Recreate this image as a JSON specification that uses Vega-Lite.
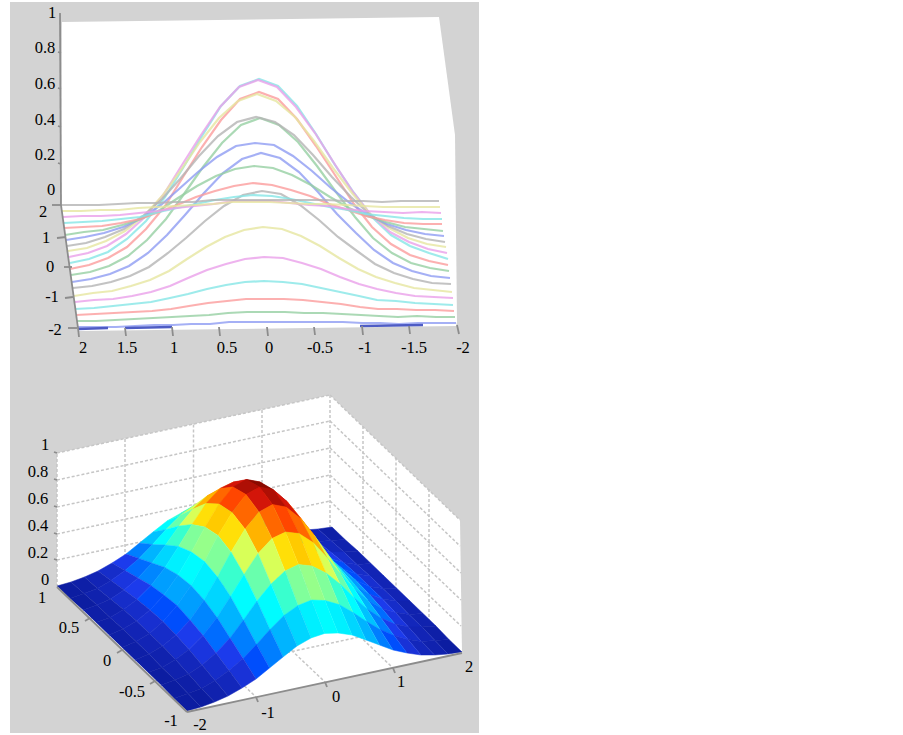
{"$schema":"https://vega.github.io/schema/vega-lite/v6.json","width":903,"height":735,"padding":0,"autosize":"none","background":"white","view":{"stroke":null},
"datasets":{
"verts":[
{"v":0,"px":187,"py":711},{"v":1,"px":201,"py":707},{"v":2,"px":214.5,"py":702},{"v":3,"px":228,"py":696},{"v":4,"px":242,"py":688},{"v":5,"px":256,"py":679},{"v":6,"px":269.5,"py":668},{"v":7,"px":283,"py":657},{"v":8,"px":297,"py":646},{"v":9,"px":311,"py":638},{"v":10,"px":324.5,"py":633.5},{"v":11,"px":338,"py":633},{"v":12,"px":352,"py":635},{"v":13,"px":366,"py":640},{"v":14,"px":379.5,"py":645},{"v":15,"px":393,"py":650},{"v":16,"px":407,"py":653},{"v":17,"px":421,"py":655},{"v":18,"px":434.5,"py":655},{"v":19,"px":448,"py":654},{"v":20,"px":462,"py":652},
{"v":21,"px":174,"py":698.5},{"v":22,"px":188,"py":693.5},{"v":23,"px":201.5,"py":688.5},{"v":24,"px":215,"py":680.5},{"v":25,"px":229,"py":670.5},{"v":26,"px":243,"py":658.5},{"v":27,"px":256.5,"py":644.5},{"v":28,"px":270,"py":629.5},{"v":29,"px":284,"py":615.5},{"v":30,"px":298,"py":605.5},{"v":31,"px":311.5,"py":600},{"v":32,"px":325,"py":600.5},{"v":33,"px":339,"py":604.5},{"v":34,"px":353,"py":612.5},{"v":35,"px":366.5,"py":621.5},{"v":36,"px":380,"py":629.5},{"v":37,"px":394,"py":635.5},{"v":38,"px":408,"py":639.5},{"v":39,"px":421.5,"py":641.5},{"v":40,"px":435,"py":640.5},{"v":41,"px":449,"py":639.5},
{"v":42,"px":161,"py":685},{"v":43,"px":175,"py":680},{"v":44,"px":188.5,"py":674},{"v":45,"px":202,"py":665},{"v":46,"px":216,"py":653},{"v":47,"px":230,"py":638},{"v":48,"px":243.5,"py":620},{"v":49,"px":257,"py":601},{"v":50,"px":271,"py":584},{"v":51,"px":285,"py":571},{"v":52,"px":298.5,"py":564.5},{"v":53,"px":312,"py":566},{"v":54,"px":326,"py":573},{"v":55,"px":340,"py":584},{"v":56,"px":353.5,"py":597},{"v":57,"px":367,"py":609},{"v":58,"px":381,"py":618},{"v":59,"px":395,"py":624},{"v":60,"px":408.5,"py":627},{"v":61,"px":422,"py":627},{"v":62,"px":436,"py":626},
{"v":63,"px":148,"py":672.5},{"v":64,"px":162,"py":667.5},{"v":65,"px":175.5,"py":659.5},{"v":66,"px":189,"py":649.5},{"v":67,"px":203,"py":635.5},{"v":68,"px":217,"py":617.5},{"v":69,"px":230.5,"py":596.5},{"v":70,"px":244,"py":574.5},{"v":71,"px":258,"py":553.5},{"v":72,"px":272,"py":538.5},{"v":73,"px":285.5,"py":532},{"v":74,"px":299,"py":533.5},{"v":75,"px":313,"py":542.5},{"v":76,"px":327,"py":557.5},{"v":77,"px":340.5,"py":573.5},{"v":78,"px":354,"py":588.5},{"v":79,"px":368,"py":600.5},{"v":80,"px":382,"py":608.5},{"v":81,"px":395.5,"py":612.5},{"v":82,"px":409,"py":614.5},{"v":83,"px":423,"py":613.5},
{"v":84,"px":135,"py":660},{"v":85,"px":149,"py":654},{"v":86,"px":162.5,"py":646},{"v":87,"px":176,"py":635},{"v":88,"px":190,"py":620},{"v":89,"px":204,"py":600},{"v":90,"px":217.5,"py":577},{"v":91,"px":231,"py":552},{"v":92,"px":245,"py":529},{"v":93,"px":259,"py":512},{"v":94,"px":272.5,"py":504.5},{"v":95,"px":286,"py":507},{"v":96,"px":300,"py":518},{"v":97,"px":314,"py":535},{"v":98,"px":327.5,"py":554},{"v":99,"px":341,"py":571},{"v":100,"px":355,"py":585},{"v":101,"px":369,"py":594},{"v":102,"px":382.5,"py":599},{"v":103,"px":396,"py":601},{"v":104,"px":410,"py":601},
{"v":105,"px":122,"py":647.5},{"v":106,"px":136,"py":641.5},{"v":107,"px":149.5,"py":633.5},{"v":108,"px":163,"py":621.5},{"v":109,"px":177,"py":605.5},{"v":110,"px":191,"py":585.5},{"v":111,"px":204.5,"py":561.5},{"v":112,"px":218,"py":535.5},{"v":113,"px":232,"py":512.5},{"v":114,"px":246,"py":494.5},{"v":115,"px":259.5,"py":487},{"v":116,"px":273,"py":489.5},{"v":117,"px":287,"py":501.5},{"v":118,"px":301,"py":518.5},{"v":119,"px":314.5,"py":538.5},{"v":120,"px":328,"py":556.5},{"v":121,"px":342,"py":570.5},{"v":122,"px":356,"py":580.5},{"v":123,"px":369.5,"py":586.5},{"v":124,"px":383,"py":588.5},{"v":125,"px":397,"py":588.5},
{"v":126,"px":109,"py":635},{"v":127,"px":123,"py":629},{"v":128,"px":136.5,"py":621},{"v":129,"px":150,"py":610},{"v":130,"px":164,"py":595},{"v":131,"px":178,"py":575},{"v":132,"px":191.5,"py":552},{"v":133,"px":205,"py":527},{"v":134,"px":219,"py":504},{"v":135,"px":233,"py":487},{"v":136,"px":246.5,"py":479.5},{"v":137,"px":260,"py":482},{"v":138,"px":274,"py":493},{"v":139,"px":288,"py":510},{"v":140,"px":301.5,"py":529},{"v":141,"px":315,"py":546},{"v":142,"px":329,"py":560},{"v":143,"px":343,"py":569},{"v":144,"px":356.5,"py":574},{"v":145,"px":370,"py":576},{"v":146,"px":384,"py":576},
{"v":147,"px":96,"py":622.5},{"v":148,"px":110,"py":617.5},{"v":149,"px":123.5,"py":609.5},{"v":150,"px":137,"py":599.5},{"v":151,"px":151,"py":585.5},{"v":152,"px":165,"py":567.5},{"v":153,"px":178.5,"py":546.5},{"v":154,"px":192,"py":524.5},{"v":155,"px":206,"py":503.5},{"v":156,"px":220,"py":488.5},{"v":157,"px":233.5,"py":482},{"v":158,"px":247,"py":483.5},{"v":159,"px":261,"py":492.5},{"v":160,"px":275,"py":507.5},{"v":161,"px":288.5,"py":523.5},{"v":162,"px":302,"py":538.5},{"v":163,"px":316,"py":550.5},{"v":164,"px":330,"py":558.5},{"v":165,"px":343.5,"py":562.5},{"v":166,"px":357,"py":564.5},{"v":167,"px":371,"py":563.5},
{"v":168,"px":83,"py":610},{"v":169,"px":97,"py":605},{"v":170,"px":110.5,"py":599},{"v":171,"px":124,"py":590},{"v":172,"px":138,"py":578},{"v":173,"px":152,"py":563},{"v":174,"px":165.5,"py":545},{"v":175,"px":179,"py":526},{"v":176,"px":193,"py":509},{"v":177,"px":207,"py":496},{"v":178,"px":220.5,"py":489.5},{"v":179,"px":234,"py":491},{"v":180,"px":248,"py":498},{"v":181,"px":262,"py":509},{"v":182,"px":275.5,"py":522},{"v":183,"px":289,"py":534},{"v":184,"px":303,"py":543},{"v":185,"px":317,"py":549},{"v":186,"px":330.5,"py":552},{"v":187,"px":344,"py":552},{"v":188,"px":358,"py":551},
{"v":189,"px":70,"py":598.5},{"v":190,"px":84,"py":593.5},{"v":191,"px":97.5,"py":588.5},{"v":192,"px":111,"py":580.5},{"v":193,"px":125,"py":570.5},{"v":194,"px":139,"py":558.5},{"v":195,"px":152.5,"py":544.5},{"v":196,"px":166,"py":529.5},{"v":197,"px":180,"py":515.5},{"v":198,"px":194,"py":505.5},{"v":199,"px":207.5,"py":500},{"v":200,"px":221,"py":500.5},{"v":201,"px":235,"py":504.5},{"v":202,"px":249,"py":512.5},{"v":203,"px":262.5,"py":521.5},{"v":204,"px":276,"py":529.5},{"v":205,"px":290,"py":535.5},{"v":206,"px":304,"py":539.5},{"v":207,"px":317.5,"py":541.5},{"v":208,"px":331,"py":540.5},{"v":209,"px":345,"py":539.5},
{"v":210,"px":57,"py":586},{"v":211,"px":71,"py":582},{"v":212,"px":84.5,"py":577},{"v":213,"px":98,"py":571},{"v":214,"px":112,"py":563},{"v":215,"px":126,"py":554},{"v":216,"px":139.5,"py":543},{"v":217,"px":153,"py":532},{"v":218,"px":167,"py":521},{"v":219,"px":181,"py":513},{"v":220,"px":194.5,"py":508.5},{"v":221,"px":208,"py":508},{"v":222,"px":222,"py":510},{"v":223,"px":236,"py":515},{"v":224,"px":249.5,"py":520},{"v":225,"px":263,"py":525},{"v":226,"px":277,"py":528},{"v":227,"px":291,"py":530},{"v":228,"px":304.5,"py":530},{"v":229,"px":318,"py":529},{"v":230,"px":332,"py":527}
],
"cells":[
{"c":"c208","z":0.02,"v":[208,209,230,229]},{"c":"c207","z":0.04,"v":[207,208,229,228]},{"c":"c206","z":0.07,"v":[206,207,228,227]},{"c":"c205","z":0.12,"v":[205,206,227,226]},{"c":"c204","z":0.19,"v":[204,205,226,225]},{"c":"c203","z":0.28,"v":[203,204,225,224]},{"c":"c202","z":0.37,"v":[202,203,224,223]},{"c":"c201","z":0.45,"v":[201,202,223,222]},{"c":"c200","z":0.51,"v":[200,201,222,221]},{"c":"c199","z":0.53,"v":[199,200,221,220]},{"c":"c198","z":0.51,"v":[198,199,220,219]},{"c":"c197","z":0.45,"v":[197,198,219,218]},{"c":"c196","z":0.37,"v":[196,197,218,217]},{"c":"c195","z":0.28,"v":[195,196,217,216]},{"c":"c194","z":0.19,"v":[194,195,216,215]},{"c":"c193","z":0.12,"v":[193,194,215,214]},{"c":"c192","z":0.07,"v":[192,193,214,213]},{"c":"c191","z":0.04,"v":[191,192,213,212]},{"c":"c190","z":0.02,"v":[190,191,212,211]},{"c":"c189","z":0.01,"v":[189,190,211,210]},
{"c":"c187","z":0.03,"v":[187,188,209,208]},{"c":"c186","z":0.05,"v":[186,187,208,207]},{"c":"c185","z":0.10,"v":[185,186,207,206]},{"c":"c184","z":0.17,"v":[184,185,206,205]},{"c":"c183","z":0.26,"v":[183,184,205,204]},{"c":"c182","z":0.37,"v":[182,183,204,203]},{"c":"c181","z":0.49,"v":[181,182,203,202]},{"c":"c180","z":0.59,"v":[180,181,202,201]},{"c":"c179","z":0.67,"v":[179,180,201,200]},{"c":"c178","z":0.70,"v":[178,179,200,199]},{"c":"c177","z":0.67,"v":[177,178,199,198]},{"c":"c176","z":0.59,"v":[176,177,198,197]},{"c":"c175","z":0.49,"v":[175,176,197,196]},{"c":"c174","z":0.37,"v":[174,175,196,195]},{"c":"c173","z":0.26,"v":[173,174,195,194]},{"c":"c172","z":0.17,"v":[172,173,194,193]},{"c":"c171","z":0.10,"v":[171,172,193,192]},{"c":"c170","z":0.05,"v":[170,171,192,191]},{"c":"c169","z":0.03,"v":[169,170,191,190]},{"c":"c168","z":0.01,"v":[168,169,190,189]},
{"c":"c166","z":0.03,"v":[166,167,188,187]},{"c":"c165","z":0.07,"v":[165,166,187,186]},{"c":"c164","z":0.12,"v":[164,165,186,185]},{"c":"c163","z":0.20,"v":[163,164,185,184]},{"c":"c162","z":0.31,"v":[162,163,184,183]},{"c":"c161","z":0.45,"v":[161,162,183,182]},{"c":"c160","z":0.59,"v":[160,161,182,181]},{"c":"c159","z":0.73,"v":[159,160,181,180]},{"c":"c158","z":0.82,"v":[158,159,180,179]},{"c":"c157","z":0.85,"v":[157,158,179,178]},{"c":"c156","z":0.82,"v":[156,157,178,177]},{"c":"c155","z":0.73,"v":[155,156,177,176]},{"c":"c154","z":0.59,"v":[154,155,176,175]},{"c":"c153","z":0.45,"v":[153,154,175,174]},{"c":"c152","z":0.31,"v":[152,153,174,173]},{"c":"c151","z":0.20,"v":[151,152,173,172]},{"c":"c150","z":0.12,"v":[150,151,172,171]},{"c":"c149","z":0.07,"v":[149,150,171,170]},{"c":"c148","z":0.03,"v":[148,149,170,169]},{"c":"c147","z":0.02,"v":[147,148,169,168]},
{"c":"c145","z":0.04,"v":[145,146,167,166]},{"c":"c144","z":0.07,"v":[144,145,166,165]},{"c":"c143","z":0.14,"v":[143,144,165,164]},{"c":"c142","z":0.23,"v":[142,143,164,163]},{"c":"c141","z":0.35,"v":[141,142,163,162]},{"c":"c140","z":0.51,"v":[140,141,162,161]},{"c":"c139","z":0.67,"v":[139,140,161,160]},{"c":"c138","z":0.82,"v":[138,139,160,159]},{"c":"c137","z":0.92,"v":[137,138,159,158]},{"c":"c136","z":0.96,"v":[136,137,158,157]},{"c":"c135","z":0.92,"v":[135,136,157,156]},{"c":"c134","z":0.82,"v":[134,135,156,155]},{"c":"c133","z":0.67,"v":[133,134,155,154]},{"c":"c132","z":0.51,"v":[132,133,154,153]},{"c":"c131","z":0.35,"v":[131,132,153,152]},{"c":"c130","z":0.23,"v":[130,131,152,151]},{"c":"c129","z":0.14,"v":[129,130,151,150]},{"c":"c128","z":0.07,"v":[128,129,150,149]},{"c":"c127","z":0.04,"v":[127,128,149,148]},{"c":"c126","z":0.02,"v":[126,127,148,147]},
{"c":"c124","z":0.04,"v":[124,125,146,145]},{"c":"c123","z":0.08,"v":[123,124,145,144]},{"c":"c122","z":0.14,"v":[122,123,144,143]},{"c":"c121","z":0.24,"v":[121,122,143,142]},{"c":"c120","z":0.37,"v":[120,121,142,141]},{"c":"c119","z":0.53,"v":[119,120,141,140]},{"c":"c118","z":0.70,"v":[118,119,140,139]},{"c":"c117","z":0.85,"v":[117,118,139,138]},{"c":"c116","z":0.96,"v":[116,117,138,137]},{"c":"c115","z":1,"v":[115,116,137,136]},{"c":"c114","z":0.96,"v":[114,115,136,135]},{"c":"c113","z":0.85,"v":[113,114,135,134]},{"c":"c112","z":0.70,"v":[112,113,134,133]},{"c":"c111","z":0.53,"v":[111,112,133,132]},{"c":"c110","z":0.37,"v":[110,111,132,131]},{"c":"c109","z":0.24,"v":[109,110,131,130]},{"c":"c108","z":0.14,"v":[108,109,130,129]},{"c":"c107","z":0.08,"v":[107,108,129,128]},{"c":"c106","z":0.04,"v":[106,107,128,127]},{"c":"c105","z":0.02,"v":[105,106,127,126]},
{"c":"c103","z":0.04,"v":[103,104,125,124]},{"c":"c102","z":0.07,"v":[102,103,124,123]},{"c":"c101","z":0.14,"v":[101,102,123,122]},{"c":"c100","z":0.23,"v":[100,101,122,121]},{"c":"c99","z":0.35,"v":[99,100,121,120]},{"c":"c98","z":0.51,"v":[98,99,120,119]},{"c":"c97","z":0.67,"v":[97,98,119,118]},{"c":"c96","z":0.82,"v":[96,97,118,117]},{"c":"c95","z":0.92,"v":[95,96,117,116]},{"c":"c94","z":0.96,"v":[94,95,116,115]},{"c":"c93","z":0.92,"v":[93,94,115,114]},{"c":"c92","z":0.82,"v":[92,93,114,113]},{"c":"c91","z":0.67,"v":[91,92,113,112]},{"c":"c90","z":0.51,"v":[90,91,112,111]},{"c":"c89","z":0.35,"v":[89,90,111,110]},{"c":"c88","z":0.23,"v":[88,89,110,109]},{"c":"c87","z":0.14,"v":[87,88,109,108]},{"c":"c86","z":0.07,"v":[86,87,108,107]},{"c":"c85","z":0.04,"v":[85,86,107,106]},{"c":"c84","z":0.02,"v":[84,85,106,105]},
{"c":"c82","z":0.03,"v":[82,83,104,103]},{"c":"c81","z":0.07,"v":[81,82,103,102]},{"c":"c80","z":0.12,"v":[80,81,102,101]},{"c":"c79","z":0.20,"v":[79,80,101,100]},{"c":"c78","z":0.31,"v":[78,79,100,99]},{"c":"c77","z":0.45,"v":[77,78,99,98]},{"c":"c76","z":0.59,"v":[76,77,98,97]},{"c":"c75","z":0.73,"v":[75,76,97,96]},{"c":"c74","z":0.82,"v":[74,75,96,95]},{"c":"c73","z":0.85,"v":[73,74,95,94]},{"c":"c72","z":0.82,"v":[72,73,94,93]},{"c":"c71","z":0.73,"v":[71,72,93,92]},{"c":"c70","z":0.59,"v":[70,71,92,91]},{"c":"c69","z":0.45,"v":[69,70,91,90]},{"c":"c68","z":0.31,"v":[68,69,90,89]},{"c":"c67","z":0.20,"v":[67,68,89,88]},{"c":"c66","z":0.12,"v":[66,67,88,87]},{"c":"c65","z":0.07,"v":[65,66,87,86]},{"c":"c64","z":0.03,"v":[64,65,86,85]},{"c":"c63","z":0.02,"v":[63,64,85,84]},
{"c":"c61","z":0.03,"v":[61,62,83,82]},{"c":"c60","z":0.05,"v":[60,61,82,81]},{"c":"c59","z":0.10,"v":[59,60,81,80]},{"c":"c58","z":0.17,"v":[58,59,80,79]},{"c":"c57","z":0.26,"v":[57,58,79,78]},{"c":"c56","z":0.37,"v":[56,57,78,77]},{"c":"c55","z":0.49,"v":[55,56,77,76]},{"c":"c54","z":0.59,"v":[54,55,76,75]},{"c":"c53","z":0.67,"v":[53,54,75,74]},{"c":"c52","z":0.70,"v":[52,53,74,73]},{"c":"c51","z":0.67,"v":[51,52,73,72]},{"c":"c50","z":0.59,"v":[50,51,72,71]},{"c":"c49","z":0.49,"v":[49,50,71,70]},{"c":"c48","z":0.37,"v":[48,49,70,69]},{"c":"c47","z":0.26,"v":[47,48,69,68]},{"c":"c46","z":0.17,"v":[46,47,68,67]},{"c":"c45","z":0.10,"v":[45,46,67,66]},{"c":"c44","z":0.05,"v":[44,45,66,65]},{"c":"c43","z":0.03,"v":[43,44,65,64]},{"c":"c42","z":0.01,"v":[42,43,64,63]},
{"c":"c40","z":0.02,"v":[40,41,62,61]},{"c":"c39","z":0.04,"v":[39,40,61,60]},{"c":"c38","z":0.07,"v":[38,39,60,59]},{"c":"c37","z":0.12,"v":[37,38,59,58]},{"c":"c36","z":0.19,"v":[36,37,58,57]},{"c":"c35","z":0.28,"v":[35,36,57,56]},{"c":"c34","z":0.37,"v":[34,35,56,55]},{"c":"c33","z":0.45,"v":[33,34,55,54]},{"c":"c32","z":0.51,"v":[32,33,54,53]},{"c":"c31","z":0.53,"v":[31,32,53,52]},{"c":"c30","z":0.51,"v":[30,31,52,51]},{"c":"c29","z":0.45,"v":[29,30,51,50]},{"c":"c28","z":0.37,"v":[28,29,50,49]},{"c":"c27","z":0.28,"v":[27,28,49,48]},{"c":"c26","z":0.19,"v":[26,27,48,47]},{"c":"c25","z":0.12,"v":[25,26,47,46]},{"c":"c24","z":0.07,"v":[24,25,46,45]},{"c":"c23","z":0.04,"v":[23,24,45,44]},{"c":"c22","z":0.02,"v":[22,23,44,43]},{"c":"c21","z":0.01,"v":[21,22,43,42]},
{"c":"c19","z":0.01,"v":[19,20,41,40]},{"c":"c18","z":0.03,"v":[18,19,40,39]},{"c":"c17","z":0.05,"v":[17,18,39,38]},{"c":"c16","z":0.09,"v":[16,17,38,37]},{"c":"c15","z":0.14,"v":[15,16,37,36]},{"c":"c14","z":0.19,"v":[14,15,36,35]},{"c":"c13","z":0.26,"v":[13,14,35,34]},{"c":"c12","z":0.31,"v":[12,13,34,33]},{"c":"c11","z":0.35,"v":[11,12,33,32]},{"c":"c10","z":0.37,"v":[10,11,32,31]},{"c":"c9","z":0.35,"v":[9,10,31,30]},{"c":"c8","z":0.31,"v":[8,9,30,29]},{"c":"c7","z":0.26,"v":[7,8,29,28]},{"c":"c6","z":0.19,"v":[6,7,28,27]},{"c":"c5","z":0.14,"v":[5,6,27,26]},{"c":"c4","z":0.09,"v":[4,5,26,25]},{"c":"c3","z":0.05,"v":[3,4,25,24]},{"c":"c2","z":0.03,"v":[2,3,24,23]},{"c":"c1","z":0.01,"v":[1,2,23,22]},{"c":"c0","z":0.01,"v":[0,1,22,21]}
]},
"layer":[
{"data":{"values":[{"px":10,"px2":479,"py":2,"py2":733}]},"mark":{"type":"rect","color":"#d3d3d3"},
"encoding":{"x":{"field":"px","type":"quantitative","scale":{"domain":[0,903],"nice":false,"zero":false},"axis":null},"x2":{"field":"px2"},"y":{"field":"py","type":"quantitative","scale":{"domain":[735,0],"nice":false,"zero":false},"axis":null},"y2":{"field":"py2"}}},
{"data":{"values":[
{"id":"top","px":[62,439,455,457,456,78,61],"py":[22,17,135,322,326,331,205]},
{"id":"wallL","px":[57,330,330,57],"py":[453,395,528,587]},
{"id":"wallR","px":[330,460,462,330],"py":[395,520,653,528]},
{"id":"floor","px":[57,330,462,187],"py":[587,528,653,712]}]},
"transform":[{"flatten":["px","py"]}],
"mark":{"type":"line","fill":"#ffffff","strokeWidth":0},
"encoding":{"x":{"field":"px","type":"quantitative","axis":null},"y":{"field":"py","type":"quantitative","axis":null},"detail":{"field":"id"},"order":{"value":null}}},
{"data":{"values":[
{"id":"z2L","px":[57,330],"py":[560,501]},{"id":"z4L","px":[57,330],"py":[534,475]},{"id":"z6L","px":[57,330],"py":[507,448]},{"id":"z8L","px":[57,330],"py":[480,421]},{"id":"z10L","px":[57,330],"py":[453,395]},
{"id":"z2R","px":[330,461],"py":[501,626]},{"id":"z4R","px":[330,461],"py":[475,600]},{"id":"z6R","px":[330,461],"py":[448,573]},{"id":"z8R","px":[330,460],"py":[421,546]},{"id":"z10R","px":[330,460],"py":[395,520]},
{"id":"vL0","px":[57,57],"py":[587,453]},{"id":"vL1","px":[125,125],"py":[572,439]},{"id":"vL2","px":[193.5,193.5],"py":[557.5,424.5]},{"id":"vL3","px":[262,262],"py":[543,410]},{"id":"vC","px":[330,330],"py":[528,395]},
{"id":"vR1","px":[363,363],"py":[559,426]},{"id":"vR2","px":[396,396],"py":[590.5,457.5]},{"id":"vR3","px":[429,429],"py":[622,489]},
{"id":"f1","px":[125,256],"py":[572,697]},{"id":"f2","px":[193.5,325],"py":[557.5,682]},{"id":"f3","px":[262,393],"py":[543,668]},
{"id":"f4","px":[90,363],"py":[618.5,559]},{"id":"f5","px":[122,396],"py":[650,590.5]},{"id":"f6","px":[155,429],"py":[681,622]}]},
"transform":[{"flatten":["px","py"]}],
"mark":{"type":"line","color":"#c6c6c6","strokeWidth":1.5,"strokeDash":[3,2]},
"encoding":{"x":{"field":"px","type":"quantitative","axis":null},"y":{"field":"py","type":"quantitative","axis":null},"detail":{"field":"id"},"order":{"value":null}}},
{"data":{"name":"cells"},
"transform":[{"flatten":["v"]},{"lookup":"v","from":{"data":{"name":"verts"},"key":"v","fields":["px","py"]}}],
"mark":{"type":"line","strokeWidth":0.5},
"encoding":{"x":{"field":"px","type":"quantitative","axis":null},"y":{"field":"py","type":"quantitative","axis":null},"detail":{"field":"c"},"order":{"value":null},
"fill":{"field":"z","type":"quantitative","legend":null,"scale":{"domain":[0,0.125,0.375,0.625,0.875,1],"range":["#0a1a9a","#1c3cf0","#00ffff","#ffff40","#ff1a10","#8a0a00"]}},
"stroke":{"field":"z","type":"quantitative","legend":null,"scale":{"domain":[0,0.125,0.375,0.625,0.875,1],"range":["#0a1a9a","#1c3cf0","#00ffff","#ffff40","#ff1a10","#8a0a00"]}}}},
{"data":{"values":[
{"k":"k00","col":"blue","px":[78,97,116,135,154,173,191,210,229,248,267,286,305,324,343,362,380,399,418,437,456],"py":[327,327,327,326,325,325,324,324,322,322,322,322,322,322,322,323,323,324,323,323,323]},
{"k":"k01","col":"green","px":[77,96,115,134,153,172,190,209,228,247,266,285,304,323,342,361,379,398,417,436,455],"py":[321,321,320,319,318,317,316,315,313,312,312,312,313,313,314,315,316,317,316,317,317]},
{"k":"k02","col":"red","px":[76,95,114,133,152,171,189,208,227,246,265,284,303,322,341,360,378,397,416,435,454],"py":[315,314,313,312,311,309,306,303,301,299,299,299,300,302,304,307,309,309,310,310,311]},
{"k":"k03","col":"cyan","px":[75,94,113,132,151,170,188,207,226,245,264,283,302,321,340,359,377,396,415,434,453],"py":[309,308,306,304,302,298,294,289,285,282,281,282,284,288,292,296,300,301,303,304,305]},
{"k":"k04","col":"magenta","px":[75,94,113,132,151,170,188,207,226,245,264,283,302,321,340,359,377,396,415,434,453],"py":[302,300,299,296,292,286,278,270,264,259,257,258,263,269,277,284,289,293,296,297,298]},
{"k":"k05","col":"yellow","px":[74,93,112,131,150,169,187,206,225,244,263,282,301,320,339,358,376,395,414,433,452],"py":[296,293,291,286,280,271,259,247,237,230,227,229,236,246,258,269,277,283,288,290,292]},
{"k":"k06","col":"gray","px":[73,92,111,130,149,168,186,205,224,243,262,281,300,319,338,357,375,394,413,432,451],"py":[288,286,282,276,267,253,238,221,206,195,191,194,205,220,237,251,264,273,279,283,284]},
{"k":"k07","col":"blue","px":[72,91,110,129,148,167,185,204,223,242,261,280,299,318,337,356,374,393,412,431,450],"py":[282,279,274,266,253,235,215,193,173,159,153,158,172,192,214,233,250,263,271,276,278]},
{"k":"k08","col":"green","px":[71,90,109,128,147,166,184,203,222,241,260,279,298,317,336,355,373,392,411,430,449],"py":[275,272,266,256,240,219,194,167,143,125,118,125,142,166,192,217,238,253,263,268,271]},
{"k":"k09","col":"red","px":[70,89,108,127,146,165,183,202,221,240,259,278,297,316,335,354,372,391,410,429,448],"py":[269,265,258,247,229,206,177,147,120,99,92,99,119,146,175,204,227,244,255,261,265]},
{"k":"k10","col":"cyan","px":[70,89,108,127,146,165,183,202,221,240,259,278,297,316,335,354,372,391,410,429,448],"py":[263,259,252,239,221,197,168,136,106,86,79,86,106,134,165,193,217,235,246,253,259]},
{"k":"k11","col":"magenta","px":[69,88,107,126,145,164,182,201,220,239,258,277,296,315,334,353,371,390,409,428,447],"py":[257,253,246,234,217,194,165,135,107,87,80,87,107,133,163,192,215,232,242,249,253]},
{"k":"k12","col":"yellow","px":[68,87,106,125,144,163,181,200,219,238,257,276,295,314,333,352,370,389,408,427,446],"py":[251,248,241,231,216,195,170,142,118,101,94,101,117,141,168,193,214,228,238,244,247]},
{"k":"k13","col":"gray","px":[67,86,105,124,143,162,180,199,218,237,256,275,294,313,332,351,369,388,407,426,445],"py":[246,243,237,229,216,199,179,156,136,122,117,122,135,155,177,197,214,226,234,239,242]},
{"k":"k14","col":"blue","px":[66,85,104,123,142,161,179,198,217,236,255,274,293,312,331,350,368,387,406,425,444],"py":[240,237,233,227,218,205,189,172,157,146,143,145,156,171,188,203,215,224,230,234,236]},
{"k":"k15","col":"green","px":[65,84,103,122,141,160,178,197,216,235,254,273,292,311,330,349,367,386,405,424,443],"py":[235,232,230,225,219,210,198,186,176,169,166,168,175,185,197,208,216,222,227,229,231]},
{"k":"k16","col":"red","px":[64,83,102,121,140,159,177,196,215,234,253,272,291,310,329,348,366,385,404,423,442],"py":[228,227,226,223,219,212,205,197,191,186,183,185,190,196,204,210,216,220,223,224,224]},
{"k":"k17","col":"cyan","px":[64,83,102,121,140,159,177,196,215,234,253,272,291,310,329,348,366,385,404,423,442],"py":[223,222,221,219,217,212,208,204,200,197,195,196,199,203,207,210,214,216,218,219,219]},
{"k":"k18","col":"magenta","px":[63,82,101,120,139,158,176,195,214,233,252,271,290,309,328,347,365,384,403,422,441],"py":[217,216,216,215,213,211,208,206,204,201,201,201,203,205,206,209,211,212,213,212,213]},
{"k":"k19","col":"yellow","px":[62,81,100,119,138,157,175,194,213,232,251,270,289,308,327,346,364,383,402,421,440],"py":[211,211,210,210,208,207,206,205,204,202,202,202,203,204,204,205,206,207,207,207,207]},
{"k":"k20","col":"gray","px":[61,80,99,118,137,156,174,193,212,231,250,269,288,307,326,345,363,382,401,420,439],"py":[205,205,205,204,203,203,202,202,200,200,200,200,200,200,200,201,201,202,201,201,201]}
]},
"transform":[{"flatten":["px","py"]}],
"mark":{"type":"line","strokeWidth":2.2,"strokeOpacity":0.8},
"encoding":{"x":{"field":"px","type":"quantitative","axis":null},"y":{"field":"py","type":"quantitative","axis":null},"detail":{"field":"k"},"order":{"value":null},
"stroke":{"field":"col","type":"nominal","legend":null,"scale":{"domain":["blue","green","red","cyan","magenta","yellow","gray"],"range":["#8f9cf2","#96cfa2","#fb9c9c","#86e6e6","#eaa0ea","#e6e6a0","#b4b4b4"]}}}},
{"data":{"values":[
{"id":"s1","px":[78,108],"py":[329,328]},{"id":"s2","px":[125,172],"py":[328,327]},{"id":"s3","px":[360,423],"py":[326,325]}]},
"transform":[{"flatten":["px","py"]}],
"mark":{"type":"line","color":"#4e5cc4","strokeWidth":2.5},
"encoding":{"x":{"field":"px","type":"quantitative","axis":null},"y":{"field":"py","type":"quantitative","axis":null},"detail":{"field":"id"},"order":{"value":null}}},
{"data":{"values":[
{"id":"zax","px":[60,61],"py":[13,205]},{"id":"yax","px":[61,78],"py":[205,328]},
{"id":"zt1","px":[58,61],"py":[52,53]},{"id":"zt2","px":[58,61],"py":[88,89]},{"id":"zt3","px":[58,61],"py":[126,127]},{"id":"zt4","px":[58,61],"py":[163,164]},
{"id":"t1","px":[52,61],"py":[205,205]},{"id":"t2","px":[57,66],"py":[238,237]},{"id":"t3","px":[64,72],"py":[267,267]},{"id":"t4","px":[65,73],"py":[298,297]},{"id":"t5","px":[68,77],"py":[328,328]},
{"id":"x1","px":[78,79],"py":[328,337]},{"id":"x2","px":[125,126],"py":[328,336]},{"id":"x3","px":[172,173],"py":[327,336]},{"id":"x4","px":[219,220],"py":[327,336]},{"id":"x5","px":[267,268],"py":[327,336]},{"id":"x6","px":[314,315],"py":[327,335]},{"id":"x7","px":[362,363],"py":[326,335]},{"id":"x8","px":[409,410],"py":[326,334]},{"id":"x9","px":[457,459],"py":[325,334]},
{"id":"b1","px":[57,187],"py":[587,712]},{"id":"b2","px":[187,462],"py":[712,653]},
{"id":"bz1","px":[54,57],"py":[452,453]},{"id":"bz2","px":[54,57],"py":[479,480]},{"id":"bz3","px":[54,57],"py":[506,507]},{"id":"bz4","px":[54,57],"py":[533,534]},{"id":"bz5","px":[54,57],"py":[559,560]},
{"id":"bt1","px":[90,85],"py":[618,621]},{"id":"bt2","px":[122,117],"py":[650,653]},{"id":"bt3","px":[155,150],"py":[681,684]},{"id":"bt4","px":[256,258],"py":[697,702]},{"id":"bt5","px":[325,327],"py":[682,687]},{"id":"bt6","px":[393,395],"py":[668,673]}]},
"transform":[{"flatten":["px","py"]}],
"mark":{"type":"line","color":"#8c8c8c","strokeWidth":1.8},
"encoding":{"x":{"field":"px","type":"quantitative","axis":null},"y":{"field":"py","type":"quantitative","axis":null},"detail":{"field":"id"},"order":{"value":null}}},
{"data":{"values":[
{"t":"1","px":52,"py":13},{"t":"0.8","px":45,"py":48},{"t":"0.6","px":45,"py":84},{"t":"0.4","px":45,"py":120},{"t":"0.2","px":45,"py":155},{"t":"0","px":51,"py":190},
{"t":"2","px":43,"py":212},{"t":"1","px":46,"py":238},{"t":"0","px":50,"py":267},{"t":"-1","px":52,"py":297},{"t":"-2","px":55,"py":330},
{"t":"2","px":83,"py":348},{"t":"1.5","px":127,"py":348},{"t":"1","px":174,"py":348},{"t":"0.5","px":227,"py":348},{"t":"0","px":269,"py":348},{"t":"-0.5","px":320,"py":348},{"t":"-1","px":365,"py":348},{"t":"-1.5","px":414,"py":348},{"t":"-2","px":463,"py":348},
{"t":"1","px":45,"py":445},{"t":"0.8","px":38,"py":472},{"t":"0.6","px":38,"py":499},{"t":"0.4","px":38,"py":526},{"t":"0.2","px":38,"py":553},{"t":"0","px":45,"py":580},
{"t":"1","px":42,"py":598},{"t":"0.5","px":69,"py":628},{"t":"0","px":107,"py":661},{"t":"-0.5","px":132,"py":692},{"t":"-1","px":171,"py":721},
{"t":"-2","px":200,"py":725},{"t":"-1","px":268,"py":713},{"t":"0","px":336,"py":697},{"t":"1","px":401,"py":682},{"t":"2","px":469,"py":667}]},
"mark":{"type":"text","font":"Liberation Serif","fontSize":16.5,"color":"#000000","align":"center","baseline":"middle"},
"encoding":{"x":{"field":"px","type":"quantitative","axis":null},"y":{"field":"py","type":"quantitative","axis":null},"text":{"field":"t"}}}
]}
